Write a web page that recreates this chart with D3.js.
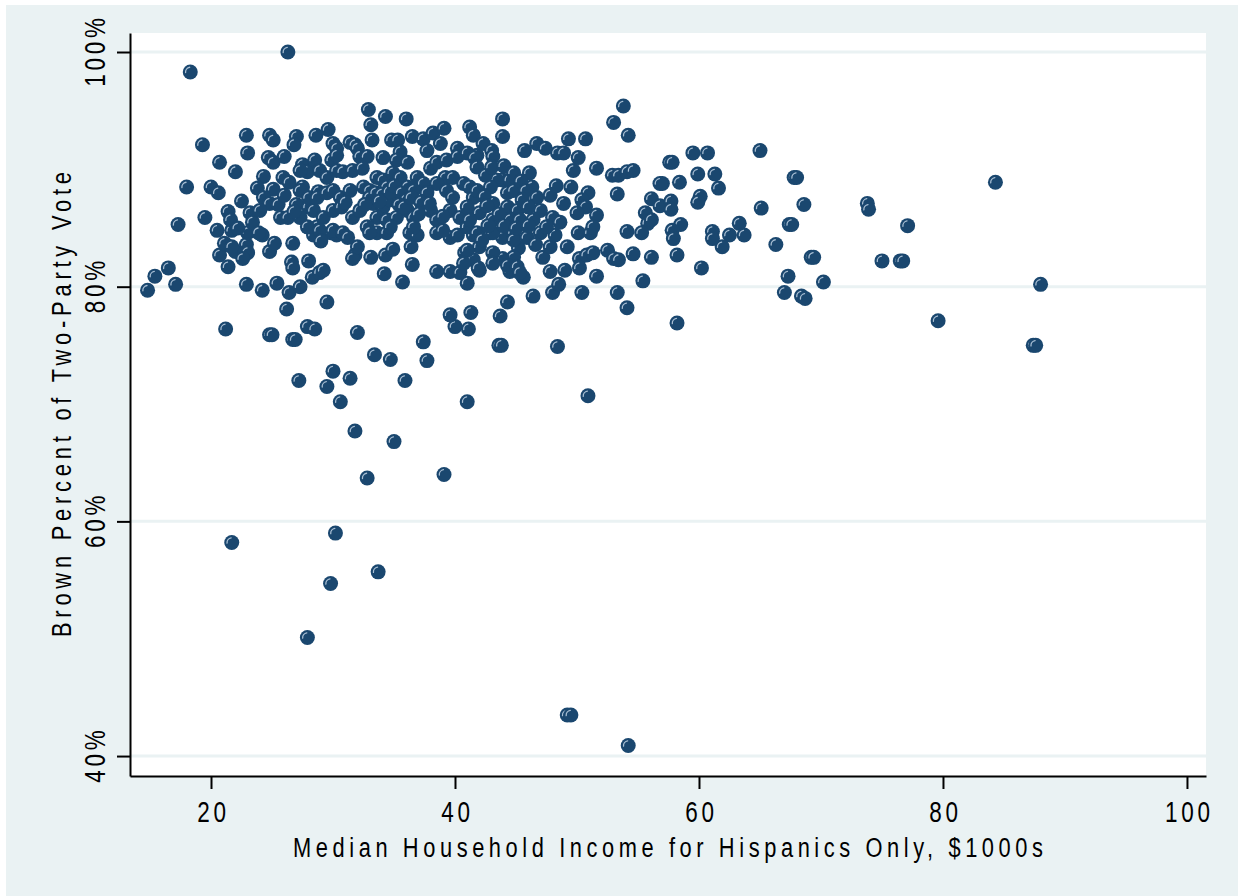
<!DOCTYPE html>
<html>
<head>
<meta charset="utf-8">
<script src="https://cdn.jsdelivr.net/npm/d3@7"></script>
<style>
  html, body { margin: 0; padding: 0; background: #fff; }
  svg { display: block; }
</style>
</head>
<body>
<svg id="chart" width="1238" height="896"></svg>
<script>
// Median Hispanic household income ($1000s) per area
const income = [
  26.3,18.3,54.2,49.2,49.5,27.9,29.8,33.7,21.7,30.2,
  32.8,39.1,35.0,31.8,41.0,50.9,30.6,31.4,29.5,27.2,
  35.9,30.0,33.4,34.7,37.7,37.4,43.6,43.8,48.4,32.0,
  21.2,24.8,25.0,26.7,26.9,27.9,28.5,40.0,41.1,41.3,
  39.6,43.7,44.3,58.2,54.1,53.3,79.6,87.4,87.6,88.0,
  84.3,77.1,73.8,73.9,75.0,76.5,76.7,70.2,69.2,69.4,
  68.4,68.7,67.0,67.3,68.6,67.8,68.0,67.4,67.6,66.3,
  65.1,65.0,63.3,63.7,62.5,61.9,61.6,61.3,60.7,61.1,
  61.1,60.2,59.9,60.1,59.9,59.5,57.6,57.8,57.0,58.4,
  56.1,56.8,57.7,57.7,55.6,55.8,55.3,58.5,57.8,57.9,
  56.1,58.2,55.4,14.8,15.4,16.5,17.1,22.9,24.2,25.4,
  26.4,27.3,26.2,20.7,21.4,21.2,22.0,22.9,23.0,22.6,
  24.8,25.2,26.7,26.6,26.7,28.0,28.4,20.5,21.7,23.0,
  24.2,28.3,28.9,29.2,29.5,31.8,31.6,33.1,34.3,34.9,
  36.4,36.5,34.2,35.7,38.5,39.6,40.4,41.0,40.8,41.5,
  29.8,30.3,33.6,34.4,36.3,36.9,38.5,39.6,40.2,41.5,
  46.4,48.0,48.5,50.4,51.6,49.0,47.8,45.6,44.5,42.0,
  47.2,47.8,49.2,50.2,50.8,51.3,50.2,52.5,53.0,53.4,
  54.6,48.2,50.1,51.1,54.1,45.2,44.8,43.9,43.1,42.0,
  42.9,43.9,44.8,41.0,40.7,41.9,43.1,44.3,45.1,45.3,
  19.3,22.9,24.8,25.1,27.0,26.8,28.6,23.0,20.7,24.7,
  25.1,26.0,22.0,24.3,27.5,27.9,25.9,26.4,18.0,20.0,
  20.6,23.8,25.1,24.3,24.8,27.5,28.8,27.0,28.0,21.4,
  21.6,23.2,23.4,25.7,26.3,17.3,19.5,23.9,28.7,21.1,
  21.7,32.9,34.3,36.0,33.1,33.2,29.6,31.4,31.8,30.0,
  30.3,34.8,35.3,36.5,37.4,38.2,39.1,38.8,41.2,41.5,
  40.2,41.8,28.5,27.3,29.9,30.3,32.0,32.2,32.8,34.1,
  35.5,35.2,36.1,37.7,38.0,38.5,39.3,40.2,41.0,39.2,
  39.8,41.6,41.8,27.3,28.9,29.5,30.3,30.8,31.6,32.4,
  33.6,34.1,34.9,35.5,36.9,37.4,38.5,40.7,41.2,28.0,
  28.7,29.5,30.0,30.6,31.4,32.5,33.0,34.4,36.1,36.6,
  37.7,39.3,39.8,41.5,41.8,28.4,29.2,30.0,30.7,31.6,
  32.2,33.3,34.1,34.7,33.6,34.4,35.2,36.1,36.6,38.0,
  38.5,39.6,40.4,41.0,27.3,27.9,28.9,30.0,30.8,32.8,
  33.0,34.7,36.6,39.0,41.0,41.8,32.0,53.8,53.0,54.2,
  43.9,43.9,42.3,43.0,43.1,45.7,46.7,47.4,48.4,48.9,
  49.3,50.7,50.1,51.6,52.9,53.4,54.1,54.6,53.3,56.8,
  50.9,50.4,50.7,51.6,51.3,48.9,48.0,48.6,50.0,56.1,
  46.1,46.3,46.7,47.0,43.9,44.5,43.4,42.9,44.3,44.8,
  43.1,44.3,45.1,42.0,41.2,43.1,44.5,45.3,46.4,43.1,
  44.8,45.9,47.0,33.0,33.5,34.0,34.6,35.0,35.6,36.0,
  35.4,33.8,32.6,35.8,36.4,37.2,37.0,42.5,43.0,44.0,
  44.8,45.4,45.8,45.5,46.0,42.4,42.6,43.6,44.0,45.0,
  46.0,42.7,42.2,46.6,47.5,47.8,48.3,49.7,49.5,24.0,
  25.5,26.0,26.8,22.5,22.2,31.0,31.2,29.0,37.9,39.0
];

// Brown's share of the two-party vote (%) for the same areas
const brownPct = [
  100.0,98.3,40.9,43.5,43.5,50.1,54.7,55.7,58.2,59.0,
  63.7,64.0,66.8,67.7,70.2,70.7,70.2,72.2,71.5,72.0,
  72.0,72.8,74.2,73.8,73.7,75.3,75.0,75.0,74.9,76.1,
  76.4,75.9,75.9,75.5,75.5,76.6,76.4,76.6,76.4,77.8,
  77.6,77.5,78.7,76.9,78.2,79.5,77.1,75.0,75.0,80.2,
  88.9,85.2,87.1,86.6,82.2,82.2,82.2,80.4,82.5,82.5,
  79.2,79.0,79.5,80.9,87.0,89.3,89.3,85.3,85.3,83.6,
  86.7,91.6,85.4,84.4,84.4,83.4,88.4,89.6,91.4,84.7,
  84.1,81.6,89.6,87.7,87.2,91.4,90.6,90.6,88.8,88.9,
  87.5,86.9,87.3,86.6,86.3,85.4,84.6,85.3,84.8,84.1,
  82.5,82.7,80.5,79.7,80.9,81.6,80.2,80.2,79.7,80.3,
  79.5,80.0,78.1,82.7,81.7,83.6,83.0,83.6,82.9,82.4,
  83.0,83.7,83.7,82.1,81.6,82.2,84.4,84.8,84.8,84.6,
  84.4,80.8,81.2,81.4,78.7,82.7,82.4,82.5,82.7,83.2,
  83.4,81.9,81.1,80.4,81.3,81.3,81.2,80.3,82.9,82.3,
  84.6,84.4,84.6,84.6,84.6,84.4,84.6,84.2,84.4,84.4,
  79.2,79.5,80.2,79.5,80.9,81.4,81.3,80.8,81.3,81.4,
  82.5,83.4,83.4,82.4,82.7,82.9,81.6,83.1,82.4,82.3,
  82.8,84.4,84.6,84.6,84.7,83.3,82.5,82.4,82.9,83.4,
  84.6,84.2,84.6,83.1,82.0,81.6,82.0,81.8,81.7,81.2,
  92.1,92.9,92.9,92.5,92.8,92.1,92.9,91.4,90.6,91.0,
  90.6,91.1,89.8,89.4,90.4,89.8,89.3,88.9,88.5,88.5,
  88.0,88.4,88.3,87.6,87.1,88.5,88.1,87.0,86.8,86.4,
  85.7,86.3,85.5,85.9,85.9,85.3,85.9,84.6,85.1,83.7,
  83.4,95.1,94.5,94.3,93.8,92.5,93.4,92.3,92.1,92.2,
  91.8,92.5,92.5,92.8,92.6,93.1,93.5,92.2,93.6,92.9,
  91.8,91.2,90.8,89.9,90.8,91.2,91.8,91.1,91.1,91.0,
  91.5,90.8,90.6,91.6,90.1,90.6,90.8,91.1,91.4,89.3,
  89.3,91.0,90.2,88.2,89.9,89.3,89.9,89.8,89.9,90.1,
  89.3,89.1,89.7,89.3,89.3,88.8,88.8,88.8,88.5,87.6,
  87.6,88.0,88.2,87.6,88.2,88.5,88.2,88.5,88.5,88.2,
  88.0,88.2,87.6,87.6,88.2,86.5,85.9,86.5,86.8,85.9,
  86.5,87.1,86.8,87.4,85.9,85.7,85.9,86.5,85.9,86.5,
  85.7,86.5,85.9,86.8,85.9,85.1,84.8,84.8,84.6,85.1,
  84.6,85.1,85.1,84.8,85.1,84.6,83.4,95.4,94.0,92.9,
  94.3,92.8,92.2,91.6,91.1,91.6,92.2,91.8,91.4,91.4,
  92.6,92.6,91.0,90.1,89.5,89.5,89.8,89.9,87.9,88.8,
  88.0,87.4,86.8,86.1,85.1,87.1,85.9,85.5,86.3,85.7,
  89.7,88.5,87.6,86.5,89.1,89.1,89.1,88.5,88.0,88.2,
  87.1,86.8,86.5,86.3,85.7,85.7,85.7,85.7,85.7,84.6,
  84.0,84.2,84.6,87.6,88.0,87.9,88.1,88.6,88.0,87.4,
  87.0,87.3,87.0,86.8,87.6,87.2,86.2,89.5,90.2,90.3,
  89.7,89.0,88.2,87.4,86.8,87.7,86.9,86.2,85.2,85.0,
  85.2,85.2,84.0,83.6,85.1,87.8,88.6,89.9,88.5,86.5,
  87.0,87.8,86.4,87.3,85.0,87.2,84.2,83.9,87.1,86.0
];

const xTicks = [20, 40, 60, 80, 100];
const yTicks = [40, 60, 80, 100];
const xTitle = "Median Household Income for Hispanics Only, $1000s";
const yTitle = "Brown Percent of Two-Party Vote";

const W = 1238, H = 896;
const plot = { left: 130, right: 1206, top: 33, bottom: 776 };
const font = "'Liberation Sans', Arial, Helvetica, sans-serif";
const bg = "#eaf2f3";
const navy = "#1a476f";

const svg = d3.select("#chart");

// outer panel and plot region
svg.append("rect").attr("x", 6).attr("y", 5).attr("width", W - 6).attr("height", H - 5).attr("fill", bg);
svg.append("rect")
  .attr("x", plot.left).attr("y", plot.top)
  .attr("width", plot.right - plot.left).attr("height", plot.bottom - plot.top)
  .attr("fill", "#fff");

const x = d3.scaleLinear().domain([13.36, 101.56]).range([plot.left, plot.right]);
const y = d3.scaleLinear().domain([38.3, 101.62]).range([plot.bottom, plot.top]);

// horizontal gridlines
svg.append("g").selectAll("line").data(yTicks).join("line")
  .attr("x1", plot.left).attr("x2", plot.right)
  .attr("y1", d => y(d)).attr("y2", d => y(d))
  .attr("stroke", bg).attr("stroke-width", 3);

const tickFont = { size: 30, scale: 0.75, spacing: 5 };

// x axis
const gx = svg.append("g")
  .attr("transform", `translate(0,${plot.bottom})`)
  .call(d3.axisBottom(x).tickValues(xTicks).tickSize(13).tickSizeOuter(0).tickFormat(d3.format("d")));
gx.select(".domain").attr("stroke", "#000").attr("stroke-width", 2);
gx.selectAll(".tick line").attr("stroke", "#000").attr("stroke-width", 2);
gx.selectAll(".tick text")
  .attr("y", 0).attr("dy", 0)
  .attr("transform", `translate(2,46) scale(${tickFont.scale},1)`)
  .attr("text-anchor", "middle")
  .attr("font-family", font).attr("font-size", tickFont.size)
  .attr("letter-spacing", tickFont.spacing).attr("fill", "#000");

// y axis
const gy = svg.append("g")
  .attr("transform", `translate(${plot.left},0)`)
  .call(d3.axisLeft(y).tickValues(yTicks).tickSize(13).tickSizeOuter(0).tickFormat(d => d + "%"));
gy.select(".domain").attr("stroke", "#000").attr("stroke-width", 2);
gy.selectAll(".tick line").attr("stroke", "#000").attr("stroke-width", 2);
gy.selectAll(".tick text")
  .attr("x", 0).attr("y", 0).attr("dy", 0)
  .attr("transform", `translate(-25,-2) rotate(-90) scale(${tickFont.scale},1)`)
  .attr("text-anchor", "middle")
  .attr("font-family", font).attr("font-size", tickFont.size)
  .attr("letter-spacing", tickFont.spacing).attr("fill", "#000");

// axis titles
const sx = 0.78;
svg.append("text")
  .attr("transform", `translate(${(plot.left + plot.right) / 2},857) scale(${sx},1)`)
  .attr("text-anchor", "middle")
  .attr("font-family", font).attr("font-size", 28).attr("fill", "#000")
  .attr("textLength", 750 / sx).attr("lengthAdjust", "spacing")
  .text(xTitle);
svg.append("text")
  .attr("transform", `translate(71,${(plot.top + plot.bottom) / 2}) rotate(-90) scale(${sx},1)`)
  .attr("text-anchor", "middle")
  .attr("font-family", font).attr("font-size", 28).attr("fill", "#000")
  .attr("textLength", 465 / sx).attr("lengthAdjust", "spacing")
  .text(yTitle);

// markers: filled circles with a small glint
const pts = d3.zip(income, brownPct);
const marks = svg.append("g").selectAll("g").data(pts).join("g")
  .attr("transform", d => `translate(${x(d[0])},${y(d[1])})`);
marks.append("circle").attr("r", 7.5).attr("fill", navy);
marks.append("path")
  .attr("d", "M-4.7,0.6 A5,5 0 0 1 -0.6,-4.7")
  .attr("fill", "none").attr("stroke", "#a9bfd4")
  .attr("stroke-width", 1.3).attr("stroke-linecap", "round");
</script>
</body>
</html>
